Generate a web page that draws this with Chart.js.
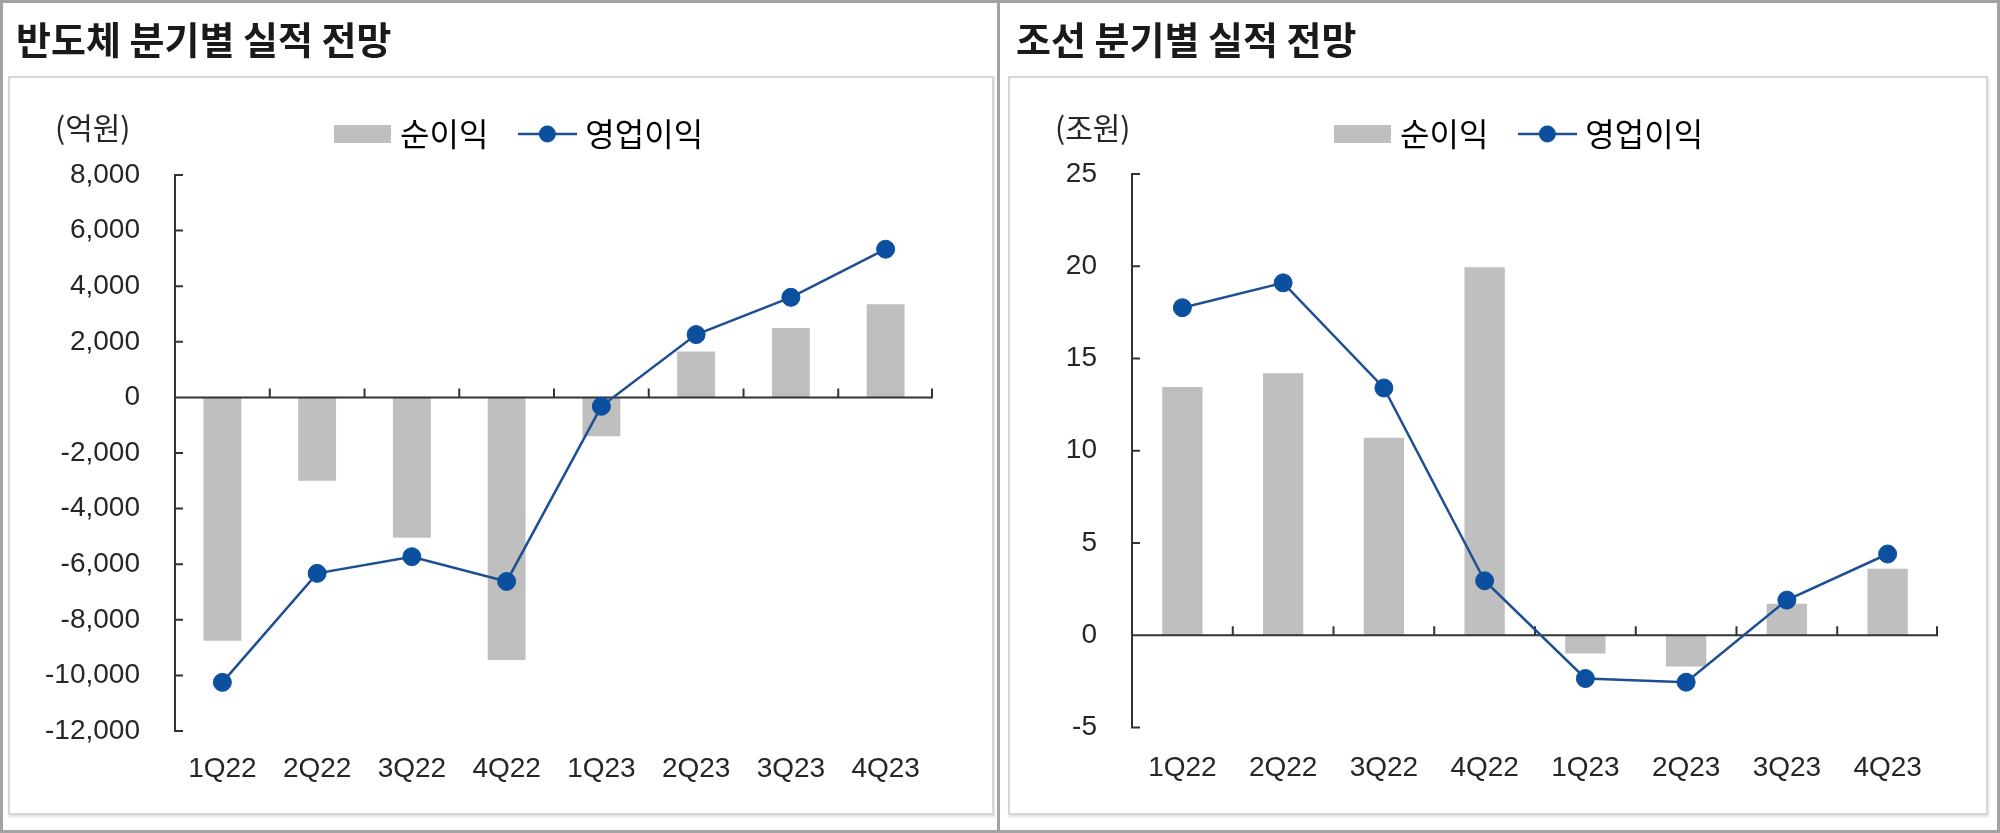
<!DOCTYPE html>
<html>
<head>
<meta charset="utf-8">
<title>분기별 실적 전망</title>
<script src="https://cdn.jsdelivr.net/npm/chart.js"></script>
<style>
  body { margin: 0; background: #fff; }
  #frame { position: relative; width: 2000px; height: 833px; background: #fff; overflow: hidden; }
  .outer { position: absolute; left: 0; top: 0; width: 2000px; height: 833px; box-sizing: border-box; border: 3px solid #a3a3a3; z-index: 5; }
  .sep { position: absolute; left: 997px; top: 0; width: 3px; height: 833px; background: #a3a3a3; z-index: 5; }
  .box { position: absolute; top: 76px; height: 739px; box-sizing: border-box; border: 2px solid #d6d6d6; box-shadow: 1px 2px 2px rgba(0,0,0,0.12); }
  canvas { position: absolute; top: 0; }
</style>
</head>
<body>
<div id="frame">
  <div class="box" style="left:8px; width:986px;"></div>
  <div class="box" style="left:1008px; width:980px;"></div>
  <canvas id="semi" width="1000" height="833" style="left:0"></canvas>
  <canvas id="ship" width="1000" height="833" style="left:1000px"></canvas>
  <div class="sep"></div>
  <div class="outer"></div>
</div>
<script>
// data
const quarters = ['1Q22', '2Q22', '3Q22', '4Q22', '1Q23', '2Q23', '3Q23', '4Q23'];

const semiTitle = '반도체 분기별 실적 전망';
const semiUnit = '(억원)';
const semiNetIncome = [-8750, -3000, -5050, -9450, -1400, 1650, 2500, 3350];
const semiOpIncome = [-10250, -6330, -5730, -6620, -320, 2260, 3600, 5330];
const semiYTicks = [-12000, -10000, -8000, -6000, -4000, -2000, 0, 2000, 4000, 6000, 8000];

const shipTitle = '조선 분기별 실적 전망';
const shipUnit = '(조원)';
const shipNetIncome = [13.45, 14.2, 10.7, 19.95, -1.0, -1.7, 1.7, 3.6];
const shipOpIncome = [17.75, 19.1, 13.4, 2.95, -2.35, -2.55, 1.9, 4.4];
const shipYTicks = [-5, 0, 5, 10, 15, 20, 25];

const netLabel = '순이익';
const opLabel = '영업이익';

const KR = '"Noto Sans CJK KR", "Noto Sans", sans-serif';
const NUM = '"Liberation Sans Narrow", "Arial Narrow", "Liberation Sans", sans-serif';
const BAR_COLOR = '#bfbfbf';
const LINE_COLOR = '#1f4f93';
const POINT_COLOR = '#0b4f9f';
const AXIS_COLOR = '#333333';
const TEXT_COLOR = '#262626';

function swatch(w, h, draw) {
  const c = document.createElement('canvas');
  c.width = w; c.height = h;
  draw(c.getContext('2d'));
  return c;
}
const barSwatch = swatch(57, 18, g => { g.fillStyle = BAR_COLOR; g.fillRect(0, 0, 57, 18); });
const lineSwatch = swatch(59, 20, g => {
  g.strokeStyle = LINE_COLOR; g.lineWidth = 2.5;
  g.beginPath(); g.moveTo(0, 10); g.lineTo(59, 10); g.stroke();
  g.fillStyle = POINT_COLOR;
  g.beginPath(); g.arc(29.5, 10, 8.5, 0, Math.PI * 2); g.fill();
});

// axis lines at x=0 / y=0 with inside ticks, plus unit label
const axisPlugin = {
  id: 'axisPlugin',
  afterDatasetDraw(chart, args) {
    if (args.index !== 0) return;
    const { ctx, chartArea, scales: { x, y } } = chart;
    const y0 = y.getPixelForValue(0);
    ctx.save();
    ctx.strokeStyle = AXIS_COLOR;
    ctx.lineWidth = 2;
    ctx.beginPath();
    ctx.moveTo(chartArea.left, y.getPixelForValue(y.max) - 1);
    ctx.lineTo(chartArea.left, y.getPixelForValue(y.min) + 1);
    y.ticks.forEach(t => {
      const py = y.getPixelForValue(t.value);
      ctx.moveTo(chartArea.left, py);
      ctx.lineTo(chartArea.left + 8, py);
    });
    ctx.moveTo(chartArea.left, y0);
    ctx.lineTo(chartArea.right, y0);
    const n = x.ticks.length;
    for (let i = 1; i <= n; i++) {
      const px = i < n ? (x.getPixelForValue(i - 1) + x.getPixelForValue(i)) / 2 : chartArea.right - 1;
      ctx.moveTo(px, y0);
      ctx.lineTo(px, y0 - 9);
    }
    ctx.stroke();
    ctx.restore();
  },
  afterDraw(chart, args, opts) {
    const ctx = chart.ctx;
    ctx.save();
    ctx.font = '30px ' + KR;
    ctx.fillStyle = TEXT_COLOR;
    ctx.textBaseline = 'middle';
    ctx.fillText(opts.unit, 55, 128);
    ctx.restore();
  }
};

function legendPlacer(height, left) {
  return {
    id: 'legendPlacer',
    beforeInit(chart) {
      const fit = chart.legend.fit;
      chart.legend.fit = function () {
        fit.call(this);
        this.height = height;
      };
    },
    afterLayout(chart) {
      chart.legend.left = left;
    }
  };
}

function makeChart(id, p) {
  new Chart(document.getElementById(id), {
    type: 'bar',
    data: {
      labels: quarters,
      datasets: [
        {
          type: 'bar', label: netLabel, data: p.net,
          backgroundColor: BAR_COLOR, barPercentage: 0.4, categoryPercentage: 1, order: 1
        },
        {
          type: 'line', label: opLabel, data: p.op,
          borderColor: LINE_COLOR, borderWidth: 2.5, tension: 0,
          pointRadius: 9, pointBackgroundColor: POINT_COLOR, pointBorderColor: POINT_COLOR,
          pointBorderWidth: 1, order: 0
        }
      ]
    },
    options: {
      responsive: false,
      animation: false,
      layout: { padding: { left: 16, right: p.padRight, top: 0, bottom: p.padBottom } },
      scales: {
        x: {
          grid: { display: false, drawTicks: false },
          border: { display: false },
          ticks: { color: TEXT_COLOR, font: { family: NUM, size: 28 }, padding: p.xPad, maxRotation: 0, autoSkip: false }
        },
        y: {
          min: p.ticks[0], max: p.ticks[p.ticks.length - 1],
          grid: { display: false, drawTicks: false },
          border: { display: false },
          afterBuildTicks: s => { s.ticks = p.ticks.map(v => ({ value: v })); },
          afterFit: s => { s.width = p.yWidth; },
          ticks: {
            color: TEXT_COLOR, font: { family: NUM, size: 28 }, padding: 35,
            callback: v => v.toLocaleString('en-US')
          }
        }
      },
      plugins: {
        tooltip: { enabled: false },
        title: {
          display: true, text: p.title, align: 'start', color: '#1a1a1a',
          font: { family: KR, size: 38, weight: 'bold', lineHeight: 1.2 },
          padding: { top: 17, bottom: 18.4 }
        },
        legend: {
          display: true, position: 'top', align: 'start',
          labels: {
            usePointStyle: true, pointStyleWidth: 44, padding: 37,
            color: TEXT_COLOR, font: { family: KR, size: 32 },
            generateLabels: () => [
              { text: netLabel, pointStyle: barSwatch, fillStyle: BAR_COLOR, strokeStyle: BAR_COLOR, lineWidth: 0, hidden: false, datasetIndex: 0 },
              { text: opLabel, pointStyle: lineSwatch, fillStyle: POINT_COLOR, strokeStyle: LINE_COLOR, lineWidth: 0, hidden: false, datasetIndex: 1 }
            ]
          }
        },
        axisPlugin: { unit: p.unit }
      }
    },
    plugins: [axisPlugin, legendPlacer(p.legendH, 303)]
  });
}

makeChart('semi', {
  title: semiTitle, unit: semiUnit, net: semiNetIncome, op: semiOpIncome, ticks: semiYTicks,
  padRight: 67, padBottom: 26.4, yWidth: 159, xPad: 21, legendH: 94
});
makeChart('ship', {
  title: shipTitle, unit: shipUnit, net: shipNetIncome, op: shipOpIncome, ticks: shipYTicks,
  padRight: 62, padBottom: 24, yWidth: 116, xPad: 24, legendH: 93
});
</script>
</body>
</html>
